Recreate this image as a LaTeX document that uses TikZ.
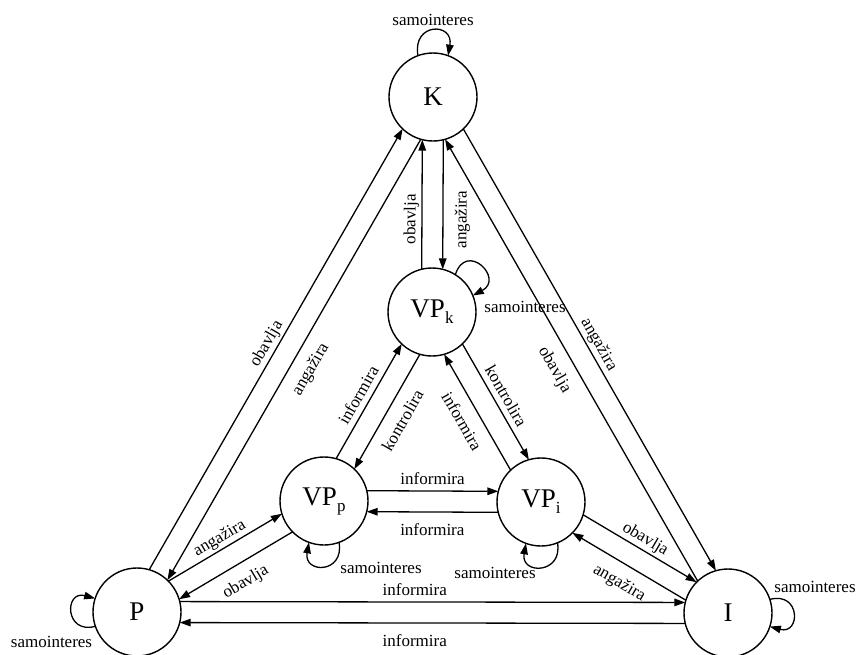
\documentclass[tikz,border=0pt]{standalone}
\usepackage{fontspec}
\setmainfont{Liberation Serif}
\usetikzlibrary{calc,arrows.meta}
\newcommand\sbx[1]{\raisebox{-6pt}{\fontsize{17}{17}\selectfont #1}}
\newcommand\pofs{10.5pt}
\begin{document}
\begin{tikzpicture}[x=1pt,y=1pt,
  st/.style={circle,draw,line width=1.4pt,minimum size=88pt,inner sep=0pt,outer sep=0pt,font=\fontsize{27}{27}\selectfont},
  arr/.style={line width=1.3pt,-{Triangle[length=11pt,width=7.5pt]}},
  pe/.style={arr,shorten <=42.7pt,shorten >=42.7pt},
  lf/.style={font=\fontsize{17}{17}\selectfont},
  la/.style={lf,sloped,above,inner sep=2pt,outer sep=0pt,text height=11.6pt,text depth=4.4pt},
  lb/.style={lf,sloped,below,inner sep=2pt,outer xsep=0pt,outer ysep=10pt,text height=11.6pt,text depth=0pt},
  sl/.style={lf,anchor=base,inner sep=0pt}]
\useasboundingbox (0,0) rectangle (857,-654);

% states
\node[st] (K)   at (433,-97)  {K};
\node[st] (VPk) at (432,-312) {VP\sbx{k}};
\node[st] (VPp) at (324,-501) {VP\sbx{p}};
\node[st] (VPi) at (541,-502) {VP\sbx{i}};
\node[st] (P)   at (137,-612) {P};
\node[st] (I)   at (728,-613) {I};

% K -- VPk
\draw[pe] ($(VPk.center)!\pofs!90:(K.center)$) -- node[la,pos=0.43]{obavlja} ($(K.center)!\pofs!-90:(VPk.center)$);
\draw[pe] ($(K.center)!\pofs!90:(VPk.center)$) -- node[lb,pos=0.57]{angažira} ($(VPk.center)!\pofs!-90:(K.center)$);

% K -- P
\draw[pe] ($(P.center)!\pofs!90:(K.center)$) -- node[la,pos=0.5]{obavlja} ($(K.center)!\pofs!-90:(P.center)$);
\draw[pe] ($(K.center)!\pofs!90:(P.center)$) -- node[lb,pos=0.5]{angažira} ($(P.center)!\pofs!-90:(K.center)$);

% K -- I
\draw[pe] ($(I.center)!\pofs!90:(K.center)$) -- node[lb,pos=0.5]{obavlja} ($(K.center)!\pofs!-90:(I.center)$);
\draw[pe] ($(K.center)!\pofs!90:(I.center)$) -- node[la,pos=0.5]{angažira} ($(I.center)!\pofs!-90:(K.center)$);

% VPk -- VPp
\draw[pe] ($(VPp.center)!\pofs!90:(VPk.center)$) -- node[la,pos=0.5]{informira} ($(VPk.center)!\pofs!-90:(VPp.center)$);
\draw[pe] ($(VPk.center)!\pofs!90:(VPp.center)$) -- node[lb,pos=0.5]{kontrolira} ($(VPp.center)!\pofs!-90:(VPk.center)$);

% VPk -- VPi
\draw[pe] ($(VPi.center)!\pofs!90:(VPk.center)$) -- node[lb,pos=0.5]{informira} ($(VPk.center)!\pofs!-90:(VPi.center)$);
\draw[pe] ($(VPk.center)!\pofs!90:(VPi.center)$) -- node[la,pos=0.5]{kontrolira} ($(VPi.center)!\pofs!-90:(VPk.center)$);

% VPp -- VPi
\draw[pe] ($(VPp.center)!\pofs!90:(VPi.center)$) -- node[la,pos=0.5]{informira} ($(VPi.center)!\pofs!-90:(VPp.center)$);
\draw[pe] ($(VPi.center)!\pofs!90:(VPp.center)$) -- node[lb,pos=0.5]{informira} ($(VPp.center)!\pofs!-90:(VPi.center)$);

% P -- VPp
\draw[pe] ($(P.center)!\pofs!90:(VPp.center)$) -- node[la,pos=0.5]{angažira} ($(VPp.center)!\pofs!-90:(P.center)$);
\draw[pe] ($(VPp.center)!\pofs!90:(P.center)$) -- node[lb,pos=0.5]{obavlja} ($(P.center)!\pofs!-90:(VPp.center)$);

% VPi -- I
\draw[pe] ($(VPi.center)!\pofs!90:(I.center)$) -- node[la,pos=0.5]{obavlja} ($(I.center)!\pofs!-90:(VPi.center)$);
\draw[pe] ($(I.center)!\pofs!90:(VPi.center)$) -- node[lb,pos=0.5]{angažira} ($(VPi.center)!\pofs!-90:(I.center)$);

% P -- I
\draw[pe] ($(P.center)!\pofs!90:(I.center)$) -- node[la,pos=0.47]{informira} ($(I.center)!\pofs!-90:(P.center)$);
\draw[pe] ($(I.center)!\pofs!90:(P.center)$) -- node[lb,pos=0.53]{informira} ($(P.center)!\pofs!-90:(I.center)$);

% self loops
\draw[arr] (K.110) .. controls +(100:34) and +(80:34) .. (K.70);
\draw[arr] (VPk.58) .. controls +(72:36) and +(28:36) .. (VPk.22);
\draw[arr] (VPp.-70) .. controls +(-80:32) and +(-100:32) .. (VPp.-110);
\draw[arr] (VPi.-68) .. controls +(-80:32) and +(-100:32) .. (VPi.-110);
\draw[arr] (P.-161) .. controls +(-165:32) and +(165:32) .. (P.162);
\draw[arr] (I.18) .. controls +(15:32) and +(-15:32) .. (I.-18);

% loop labels
\node[sl] (lK)   at (433,-25)  {samointeres};
\node[sl] (lVPk) at (525,-312) {samointeres};
\node[sl] (lVPp) at (381,-573) {samointeres};
\node[sl] (lVPi) at (495,-578) {samointeres};
\node[sl] (lP)   at (51.5,-647) {samointeres};
\node[sl] (lI)   at (815,-592) {samointeres};
\end{tikzpicture}
\end{document}
